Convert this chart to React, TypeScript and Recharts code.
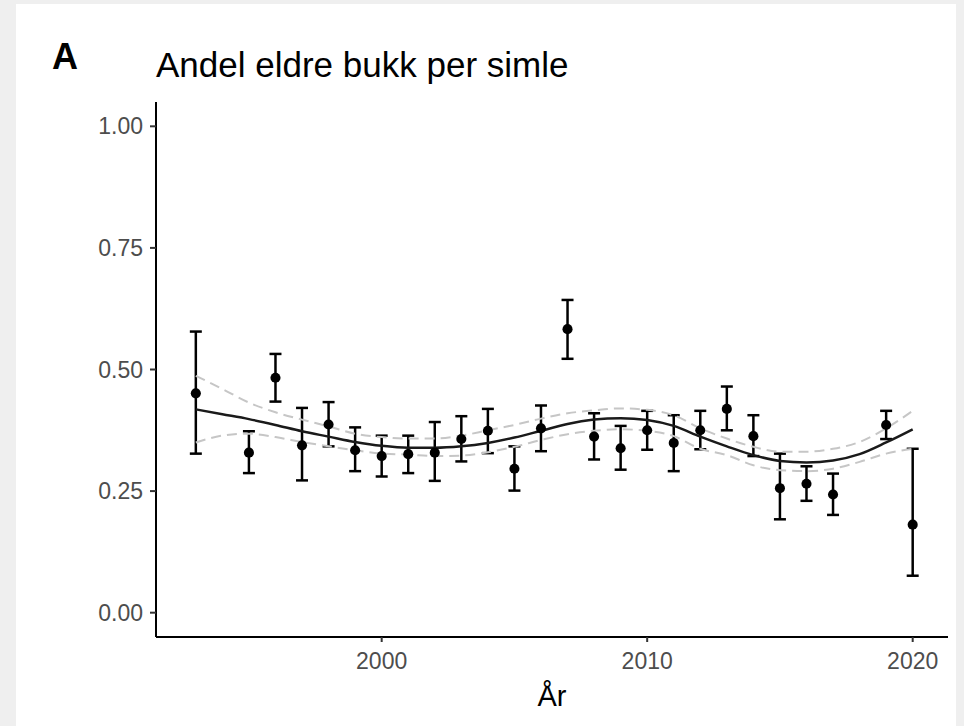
import {
  ComposedChart,
  Line,
  Scatter,
  ErrorBar,
  XAxis,
  YAxis,
  ZAxis,
} from 'recharts';

// observed yearly share with 95% interval
const years = [1993, 1995, 1996, 1997, 1998, 1999, 2000, 2001, 2002, 2003, 2004, 2005, 2006, 2007, 2008, 2009, 2010, 2011, 2012, 2013, 2014, 2015, 2016, 2017, 2019, 2020];
const shares = [0.451, 0.329, 0.483, 0.344, 0.387, 0.334, 0.322, 0.326, 0.329, 0.357, 0.374, 0.296, 0.379, 0.583, 0.362, 0.338, 0.375, 0.349, 0.375, 0.419, 0.363, 0.256, 0.265, 0.243, 0.386, 0.181];
const lower = [0.327, 0.287, 0.434, 0.272, 0.342, 0.291, 0.28, 0.287, 0.271, 0.311, 0.328, 0.251, 0.332, 0.522, 0.315, 0.294, 0.335, 0.291, 0.336, 0.375, 0.322, 0.192, 0.23, 0.201, 0.357, 0.076];
const upper = [0.578, 0.373, 0.532, 0.421, 0.433, 0.381, 0.364, 0.364, 0.392, 0.404, 0.419, 0.342, 0.426, 0.643, 0.41, 0.384, 0.415, 0.406, 0.415, 0.465, 0.406, 0.327, 0.301, 0.286, 0.415, 0.337];

// smoothed trend and its confidence band
const fitYears = [1993, 1994, 1995, 1996, 1997, 1998, 1999, 2000, 2001, 2002, 2003, 2004, 2005, 2006, 2007, 2008, 2009, 2010, 2011, 2012, 2013, 2014, 2015, 2016, 2017, 2018, 2019, 2020];
const fit = [0.418, 0.408, 0.398, 0.386, 0.373, 0.362, 0.351, 0.343, 0.339, 0.339, 0.342, 0.349, 0.36, 0.374, 0.388, 0.397, 0.4, 0.396, 0.384, 0.362, 0.342, 0.324, 0.312, 0.309, 0.313, 0.326, 0.35, 0.377];
const fitUpper = [0.487, 0.46, 0.432, 0.412, 0.397, 0.383, 0.368, 0.361, 0.358, 0.358, 0.364, 0.375, 0.386, 0.399, 0.41, 0.416, 0.42, 0.417, 0.406, 0.379, 0.358, 0.341, 0.331, 0.331, 0.337, 0.351, 0.379, 0.415];
const fitLower = [0.35, 0.364, 0.368, 0.361, 0.351, 0.342, 0.334, 0.327, 0.325, 0.322, 0.323, 0.33, 0.341, 0.355, 0.367, 0.374, 0.377, 0.374, 0.363, 0.337, 0.324, 0.303, 0.293, 0.291, 0.296, 0.31, 0.327, 0.337];

const xTicks = [2000, 2010, 2020];
const yTicks = [0, 0.25, 0.5, 0.75, 1];

const FONT = '"Liberation Sans", Arial, Helvetica, sans-serif';

const points = years.map((year, i) => ({
  year,
  share: shares[i],
  err: [shares[i] - lower[i], upper[i] - shares[i]],
}));

const trend = fitYears.map((year, i) => ({
  year,
  fit: fit[i],
  hi: fitUpper[i],
  lo: fitLower[i],
}));

const tickStyle = { fontSize: 23, fill: '#4d4d4d', fontFamily: FONT };

export default function App() {
  return (
    <div
      style={{
        position: 'absolute',
        left: 0,
        top: 0,
        width: 964,
        height: 726,
        background: '#efefef',
        overflow: 'hidden',
      }}
    >
      <div style={{ position: 'absolute', left: 16, top: 4, width: 940, height: 722, background: '#fff' }}>
        <ComposedChart
          width={940}
          height={722}
          data={trend}
          margin={{ top: 98, right: 8, bottom: 0, left: 0 }}
        >
          <XAxis
            dataKey="year"
            type="number"
            domain={[1991.5, 2021.33]}
            ticks={xTicks}
            allowDataOverflow
            height={89}
            tickSize={5}
            tickMargin={11}
            tick={tickStyle}
            axisLine={{ stroke: '#000', strokeWidth: 2 }}
            tickLine={{ stroke: '#333', strokeWidth: 2 }}
            label={{ value: 'År', position: 'insideBottom', offset: 20, fontSize: 29, fill: '#000', fontFamily: FONT }}
          />
          <YAxis
            type="number"
            domain={[-0.05, 1.05]}
            ticks={yTicks}
            allowDataOverflow
            width={140}
            tickSize={6}
            tickMargin={7}
            tick={tickStyle}
            tickFormatter={(v: number) => v.toFixed(2)}
            axisLine={{ stroke: '#000', strokeWidth: 2 }}
            tickLine={{ stroke: '#333', strokeWidth: 2 }}
          />
          <ZAxis range={[80, 80]} />
          <Scatter data={points} dataKey="share" fill="#000" isAnimationActive={false}>
            <ErrorBar dataKey="err" direction="y" width={6} stroke="#000" strokeWidth={2.5} isAnimationActive={false} />
          </Scatter>
          <Line
            dataKey="hi"
            type="monotone"
            stroke="#c6c6c6"
            strokeWidth={2}
            strokeDasharray="10 6"
            dot={false}
            activeDot={false}
            isAnimationActive={false}
          />
          <Line
            dataKey="lo"
            type="monotone"
            stroke="#c6c6c6"
            strokeWidth={2}
            strokeDasharray="10 6"
            dot={false}
            activeDot={false}
            isAnimationActive={false}
          />
          <Line
            dataKey="fit"
            type="monotone"
            stroke="#1a1a1a"
            strokeWidth={2.5}
            dot={false}
            activeDot={false}
            isAnimationActive={false}
          />
        </ComposedChart>
      </div>
      <svg
        width={964}
        height={726}
        style={{ position: 'absolute', left: 0, top: 0, pointerEvents: 'none' }}
      >
        <text x={52} y={69} fontSize={36} fontWeight="bold" fontFamily={FONT} fill="#000">
          A
        </text>
        <text x={156} y={77} fontSize={35} fontFamily={FONT} fill="#000">
          Andel eldre bukk per simle
        </text>
      </svg>
    </div>
  );
}
